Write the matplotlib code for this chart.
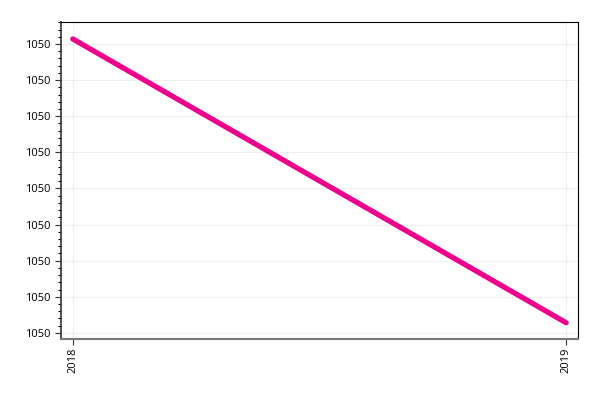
import matplotlib.pyplot as plt
from matplotlib.ticker import FormatStrFormatter, AutoMinorLocator, FixedLocator

years = [2018, 2019]
values = [1050.0414, 1049.9628]
y_ticks = [1049.96, 1049.97, 1049.98, 1049.99, 1050.00, 1050.01, 1050.02, 1050.03, 1050.04]

plt.rcParams['font.family'] = ['Open Sans', 'DejaVu Sans']

fig = plt.figure(figsize=(6, 4), dpi=100)
ax = fig.add_axes([61 / 600, 1 - 339 / 400, 517 / 600, 317 / 400])

ax.plot(years, values, color='#EC008C', linewidth=3.8, solid_capstyle='round')

ax.set_xlim(2017.976, 2019.024)
ax.set_ylim(1049.9583, 1050.0461)
ax.set_xticks(years)
ax.set_xticklabels([str(y) for y in years], rotation=90)
ax.yaxis.set_major_locator(FixedLocator(y_ticks))
ax.yaxis.set_major_formatter(FormatStrFormatter('%.0f'))
ax.yaxis.set_minor_locator(AutoMinorLocator(5))

ax.grid(True, color='#eeeeee', linewidth=0.8)
ax.set_axisbelow(True)
ax.tick_params(axis='both', labelsize=8, length=4, width=0.8, color='#333333')
ax.tick_params(axis='y', which='minor', length=2.5, width=0.8)
ax.tick_params(axis='x', pad=2)

for s in ['top', 'right']:
    ax.spines[s].set_linewidth(0.8)
    ax.spines[s].set_color('black')
ax.spines['left'].set_color('#333333')
ax.spines['left'].set_linewidth(1.2)
ax.spines['bottom'].set_color('#777777')
ax.spines['bottom'].set_linewidth(1.5)

fig.savefig('out.png', dpi=100)
